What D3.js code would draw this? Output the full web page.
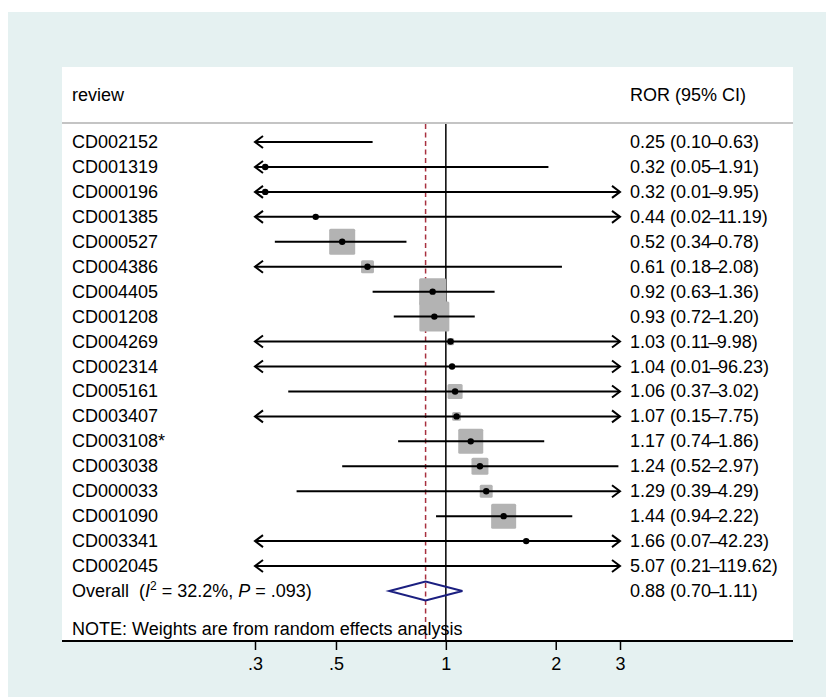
<!DOCTYPE html>
<html><head><meta charset="utf-8">
<script src="https://cdn.jsdelivr.net/npm/d3@7"></script>
<style>body{margin:0;background:#fff}svg{display:block;font-family:"Liberation Sans",Arial,sans-serif}</style>
</head><body><svg id="c" width="826" height="697"></svg>
<script>
const studies = ["CD002152","CD001319","CD000196","CD001385","CD000527","CD004386","CD004405","CD001208","CD004269","CD002314","CD005161","CD003407","CD003108*","CD003038","CD000033","CD001090","CD003341","CD002045"];
const ror   = [0.25,0.32,0.32,0.44,0.52,0.61,0.92,0.93,1.03,1.04,1.06,1.07,1.17,1.24,1.29,1.44,1.66,5.07];
const lower = [0.10,0.05,0.01,0.02,0.34,0.18,0.63,0.72,0.11,0.01,0.37,0.15,0.74,0.52,0.39,0.94,0.07,0.21];
const upper = [0.63,1.91,9.95,11.19,0.78,2.08,1.36,1.20,9.98,96.23,3.02,7.75,1.86,2.97,4.29,2.22,42.23,119.62];
const weights = [1.5,0.6,0.1,0.1,14.6,3.6,15.7,19.4,1.1,0.3,4.9,1.7,13.5,6.2,3.6,13.5,0.2,0.2];
const ciLabels = ["0.25 (0.10\u20130.63)","0.32 (0.05\u20131.91)","0.32 (0.01\u20139.95)","0.44 (0.02\u201311.19)","0.52 (0.34\u20130.78)","0.61 (0.18\u20132.08)","0.92 (0.63\u20131.36)","0.93 (0.72\u20131.20)","1.03 (0.11\u20139.98)","1.04 (0.01\u201396.23)","1.06 (0.37\u20133.02)","1.07 (0.15\u20137.75)","1.17 (0.74\u20131.86)","1.24 (0.52\u20132.97)","1.29 (0.39\u20134.29)","1.44 (0.94\u20132.22)","1.66 (0.07\u201342.23)","5.07 (0.21\u2013119.62)"];
const overall = {est:0.88, lo:0.70, hi:1.11, label:"0.88 (0.70\u20131.11)", i2:"32.2%", p:".093"};
const tickValues = [0.3,0.5,1,2,3];
const tickLabels = [".3",".5","1","2","3"];

const svg = d3.select("#c");
const FS = 18;
svg.append("rect").attr("x",8).attr("y",12).attr("width",818).attr("height",685).attr("fill","#e5f1f1");
svg.append("rect").attr("x",62).attr("y",67).attr("width",731).attr("height",574).attr("fill","#fff");

const x = d3.scaleLog().domain([0.3,3]).range([255,620]);
const rows = studies.concat(["__overall"]);
const y = d3.scalePoint().domain(rows).range([142,591]);
const box = d3.scaleSqrt().domain([0, d3.max(weights)]).range([0,30]);
const [xmin,xmax] = x.domain();

function ciText(sel, str){
  const parts = str.split("\u2013");
  sel.append("tspan").text(parts[0]);
  sel.append("tspan").attr("dx",-1.5).text("\u2013");
  sel.append("tspan").attr("dx",-1.5).text(parts[1]);
}

svg.append("text").attr("x",72).attr("y",95+6).attr("font-size",FS).text("review");
svg.append("text").attr("x",630).attr("y",95+6).attr("font-size",FS).text("ROR (95% CI)");
svg.append("line").attr("x1",62).attr("x2",793).attr("y1",123).attr("y2",123).attr("stroke","#c4c4c4").attr("stroke-width",2);

svg.append("line").attr("x1",x(overall.est)).attr("x2",x(overall.est)).attr("y1",124).attr("y2",641)
  .attr("stroke","#a8303f").attr("stroke-width",1.5).attr("stroke-dasharray","5,3.5");
svg.append("line").attr("x1",x(1)).attr("x2",x(1)).attr("y1",124).attr("y2",641)
  .attr("stroke","#000").attr("stroke-width",1.5);

studies.forEach((s,i)=>{
  const yy = y(s);
  const w = box(weights[i]);
  const inRange = ror[i]>=xmin && ror[i]<=xmax;
  if(inRange && w>0){
    svg.append("rect").attr("x",x(ror[i])-w/2).attr("y",yy-w/2).attr("width",w).attr("height",w)
      .attr("rx",1.5).attr("fill","#b3b3b3");
  }
  const lo = Math.max(lower[i],xmin), hi = Math.min(upper[i],xmax);
  const x1 = x(lo), x2 = x(hi);
  svg.append("line").attr("x1",x1).attr("x2",x2).attr("y1",yy).attr("y2",yy).attr("stroke","#000").attr("stroke-width",2);
  if(lower[i]<xmin){
    svg.append("path").attr("d",`M${x1+8},${yy-6}L${x1},${yy}L${x1+8},${yy+6}`).attr("fill","none").attr("stroke","#000").attr("stroke-width",2);
  }
  if(upper[i]>xmax){
    svg.append("path").attr("d",`M${x2-8},${yy-6}L${x2},${yy}L${x2-8},${yy+6}`).attr("fill","none").attr("stroke","#000").attr("stroke-width",2);
  }
  if(inRange){
    svg.append("circle").attr("cx",x(ror[i])).attr("cy",yy).attr("r",3.2).attr("fill","#000");
  }
  svg.append("text").attr("x",72).attr("y",yy+6).attr("font-size",FS).text(s);
  ciText(svg.append("text").attr("x",630).attr("y",yy+6).attr("font-size",FS), ciLabels[i]);
});

const yo = y("__overall");
svg.append("path").attr("d",`M${x(overall.lo)},${yo}L${x(overall.est)},${yo-9.5}L${x(overall.hi)},${yo}L${x(overall.est)},${yo+9.5}Z`)
  .attr("fill","none").attr("stroke","#1b1f80").attr("stroke-width",2);
const ot = svg.append("text").attr("x",72).attr("y",yo+6).attr("font-size",FS).attr("xml:space","preserve");
ot.append("tspan").text("Overall  (");
ot.append("tspan").attr("font-style","italic").text("I");
ot.append("tspan").attr("font-size",12).attr("dy",-7).text("2");
ot.append("tspan").attr("dy",7).text(" = "+overall.i2+", ");
ot.append("tspan").attr("font-style","italic").text("P");
ot.append("tspan").text(" = "+overall.p+")");
ciText(svg.append("text").attr("x",630).attr("y",yo+6).attr("font-size",FS), overall.label);

svg.append("text").attr("x",72).attr("y",629+6).attr("font-size",FS).text("NOTE: Weights are from random effects analysis");

const axis = d3.axisBottom(x).tickValues(tickValues).tickFormat((d,i)=>tickLabels[i]).tickSize(9).tickPadding(7);
const g = svg.append("g").attr("transform","translate(0,641)").call(axis);
g.select(".domain").remove();
g.selectAll(".tick line").attr("stroke","#000").attr("stroke-width",1.5);
g.selectAll(".tick text").attr("font-size",FS).attr("font-family","Liberation Sans, Arial, sans-serif").attr("fill","#000");
svg.append("line").attr("x1",62).attr("x2",793).attr("y1",641).attr("y2",641).attr("stroke","#000").attr("stroke-width",1.8);
</script></body></html>
